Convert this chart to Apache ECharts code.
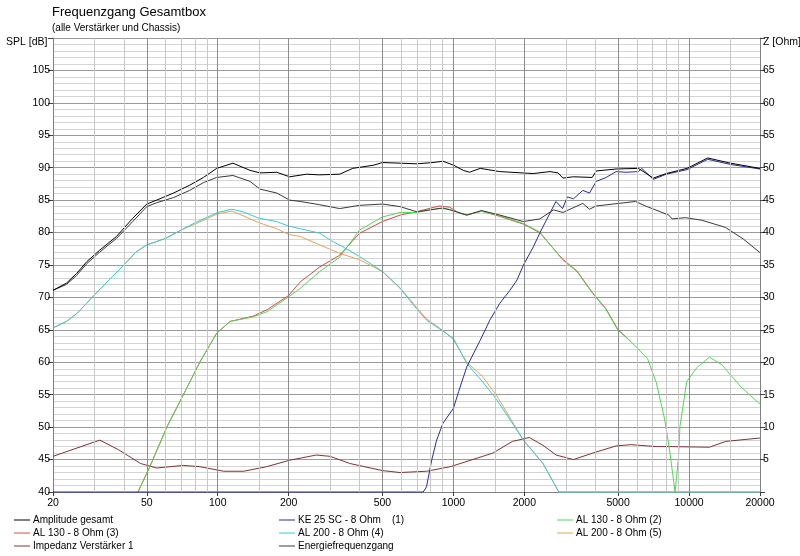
<!DOCTYPE html>
<html>
<head>
<meta charset="utf-8">
<script src="https://cdn.jsdelivr.net/npm/echarts@6/dist/echarts.min.js"></script>
<style>
html,body{margin:0;padding:0;background:#fff;}
#c{width:800px;height:556px;}
</style>
</head>
<body>
<div id="c"></div>
<script>
// ---- data ----
const xLabelFreqs = [20, 50, 100, 200, 500, 1000, 2000, 5000, 10000, 20000];
const gridMajorFreqs = [50, 100, 200, 500, 1000, 2000, 5000, 10000];
const gridMinorFreqs = [30, 40, 60, 70, 80, 90, 150, 300, 400, 600, 700, 800, 900, 1500, 3000, 4000, 6000, 7000, 8000, 9000, 15000];

const ampF  = [20, 22.8, 25.2, 27.8, 31.6, 37.2, 43.6, 50, 55, 65, 76, 87, 99, 116, 137, 151, 178, 202, 238, 270, 329, 374, 460, 500, 594, 700, 820, 903, 1000, 1100, 1170, 1300, 1574, 2180, 2570, 2780, 2916, 3230, 3880, 4040, 4900, 6100, 7050, 8000, 9800, 12000, 15000, 20000];
const ampDb = [71.1, 72.2, 73.7, 75.5, 77.3, 79.4, 82.2, 84.4, 85.0, 86.1, 87.3, 88.5, 89.9, 90.7, 89.6, 89.2, 89.3, 88.6, 89.0, 88.9, 89.0, 89.9, 90.4, 90.8, 90.7, 90.6, 90.8, 91.0, 90.4, 89.6, 89.3, 89.9, 89.4, 89.1, 89.4, 89.2, 88.4, 88.6, 88.5, 89.5, 89.8, 89.9, 88.4, 89.1, 89.9, 91.5, 90.7, 89.9];

const energyF  = [20, 22.8, 25.2, 27.8, 31.6, 37.2, 43.6, 50, 55, 65, 76, 87, 99, 116, 137, 151, 178, 202, 224, 270, 329, 400, 500, 594, 700, 903, 1030, 1140, 1316, 1574, 1982, 2324, 2660, 2916, 3540, 3780, 4030, 5050, 5930, 6530, 8200, 8470, 9640, 11330, 14260, 17000, 20000];
const energyDb = [71.1, 72.0, 73.4, 75.2, 77.0, 79.1, 81.7, 84.0, 84.6, 85.4, 86.5, 87.7, 88.5, 88.8, 87.9, 86.7, 86.1, 85.0, 84.8, 84.3, 83.7, 84.2, 84.4, 84.0, 83.2, 83.8, 83.2, 82.7, 83.4, 82.7, 81.7, 82.1, 83.5, 83.1, 84.5, 83.6, 84.1, 84.5, 84.8, 84.1, 82.7, 82.1, 82.3, 81.9, 80.8, 79.0, 76.9];

const ke25F  = [20, 745, 769, 809, 849, 903, 1000, 1053, 1140, 1300, 1428, 1574, 1738, 1862, 1982, 2184, 2324, 2723, 2906, 3045, 3230, 3540, 3780, 4040, 4450, 4900, 5400, 6100, 6300, 7050, 8000, 9800, 12000, 15000, 20000];
const ke25Db = [40, 40, 40.8, 44.9, 48.0, 50.6, 52.9, 55.5, 59.3, 63.4, 66.5, 69.1, 71.1, 72.7, 75.0, 77.8, 79.9, 84.8, 83.7, 85.5, 85.2, 86.5, 86.1, 87.9, 88.5, 89.4, 89.3, 89.4, 89.9, 88.2, 89.0, 89.7, 91.3, 90.5, 89.8];

const al130aF  = [45.9, 51.5, 61, 71.5, 84.2, 99, 113, 141, 162, 200, 224, 271, 329, 400, 500, 594, 696, 870, 965, 1060, 1140, 1316, 1574, 1982, 2324, 2906, 3340, 3900, 4450, 4980, 5660, 6660, 7270, 7890, 8300, 8720, 9000, 9150, 9770, 10750, 12200, 13800, 16600, 19650, 20000];
const al130aDb = [40, 43.9, 50.1, 55.0, 60.1, 64.5, 66.3, 67.0, 67.8, 70.1, 71.4, 74.0, 76.2, 80.4, 82.4, 83.1, 83.1, 83.7, 83.6, 83.0, 82.7, 83.3, 82.6, 81.4, 80.1, 75.8, 74.0, 70.6, 68.1, 65.0, 63.2, 60.6, 56.8, 51.1, 46.0, 40.0, 44.9, 50.1, 57.0, 59.1, 60.8, 59.6, 56.2, 53.8, 53.6];

const al130bF  = [45.9, 51.5, 61, 71.5, 84.2, 99, 113, 141, 162, 200, 224, 271, 329, 400, 500, 594, 696, 870, 965, 1060, 1140, 1316, 1574, 1982, 2324, 2906, 3340, 3900, 4450, 4980, 5660];
const al130bDb = [40, 43.9, 50.1, 55.0, 60.1, 64.5, 66.3, 67.1, 68.1, 70.3, 72.4, 74.7, 76.5, 79.9, 81.7, 82.7, 83.2, 84.1, 83.9, 83.0, 82.7, 83.3, 82.5, 81.3, 80.0, 75.9, 74.1, 70.7, 68.2, 65.1, 63.2];

const al200aF  = [20, 22.8, 25.2, 27.8, 30, 34.6, 40, 45, 50, 60, 70, 80, 100, 115, 128, 150, 178, 200, 224, 271, 308, 329, 400, 500, 594, 696, 769, 903, 1000, 1140, 1330, 1530, 1982, 2400, 2800, 20000];
const al200aDb = [65.3, 66.3, 67.5, 69.1, 70.4, 72.7, 75.0, 77.0, 78.1, 79.1, 80.4, 81.5, 83.1, 83.6, 83.2, 82.2, 81.7, 81.0, 80.6, 79.9, 78.6, 78.1, 76.3, 74.0, 71.4, 68.3, 66.5, 64.8, 63.7, 59.8, 57.0, 54.2, 48.0, 44.4, 40.0, 40.0];

const al200bF  = [20, 22.8, 25.2, 27.8, 30, 34.6, 40, 45, 50, 60, 70, 80, 100, 115, 128, 150, 178, 200, 224, 271, 329, 400, 500, 594, 696, 769, 903, 1000, 1140, 1330, 1530, 1982, 2400, 2800, 20000];
const al200bDb = [65.3, 66.3, 67.5, 69.1, 70.4, 72.7, 75.0, 77.0, 78.1, 79.1, 80.4, 81.3, 82.9, 83.3, 82.6, 81.5, 80.6, 79.7, 79.4, 78.1, 76.8, 75.8, 74.0, 71.5, 68.5, 66.7, 64.9, 63.5, 60.0, 57.8, 54.8, 48.0, 44.4, 40.0, 40.0];

const impF   = [20, 31.6, 38, 47, 55, 71.5, 84, 106, 129, 161, 202, 262, 300, 363, 500, 594, 769, 970, 1470, 1780, 2100, 2400, 2730, 3230, 3900, 4900, 5660, 7300, 8470, 12200, 14300, 19650, 20000];
const impOhm = [5.5, 8.0, 6.5, 4.4, 3.7, 4.1, 3.9, 3.2, 3.2, 3.9, 4.9, 5.7, 5.5, 4.4, 3.3, 3.0, 3.2, 3.9, 6.0, 7.8, 8.4, 7.2, 5.7, 5.0, 6.0, 7.1, 7.3, 7.0, 7.0, 6.9, 7.8, 8.3, 8.3];

const names = {
  amp: 'Amplitude gesamt',
  ke25: 'KE 25 SC - 8 Ohm    (1)',
  al130a: 'AL 130 - 8 Ohm (2)',
  al130b: 'AL 130 - 8 Ohm (3)',
  al200a: 'AL 200 - 8 Ohm (4)',
  al200b: 'AL 200 - 8 Ohm (5)',
  imp: 'Impedanz Verstärker 1',
  energy: 'Energiefrequenzgang'
};

// ---- build ----
const FONT = '"Liberation Sans", Arial, sans-serif';
function pairs(f, v) { return f.map((x, i) => [x, v[i]]); }
function line(name, f, v, color, yIdx) {
  return {
    name: name, type: 'line', data: pairs(f, v), yAxisIndex: yIdx || 0,
    symbol: 'none', showSymbol: false, smooth: false, z: 3,
    lineStyle: { color: color, width: 1 }, itemStyle: { color: color },
    emphasis: { disabled: true }, clip: false
  };
}
const gridLineData = gridMajorFreqs.map(f => ({ xAxis: f, lineStyle: { color: '#8c8c8c', width: 1, type: 'solid' } }))
  .concat(gridMinorFreqs.map(f => ({ xAxis: f, lineStyle: { color: '#c8c8c8', width: 1, type: 'solid' } })));

const chart = echarts.init(document.getElementById('c'), null, { renderer: 'canvas' });
const legendBase = {
  orient: 'vertical', top: 515, itemWidth: 16, itemHeight: 11, itemGap: 3,
  selectedMode: false, padding: 0, symbolKeepAspect: true,
  icon: 'path://M0,0H16V1H0Z',
  textStyle: { fontSize: 10, color: '#000', fontFamily: FONT, padding: [0, 0, 0, -2] }
};
chart.setOption({
  animation: false,
  backgroundColor: '#ffffff',
  title: [
    { text: 'Frequenzgang Gesamtbox', subtext: '(alle Verstärker und Chassis)', left: 52, top: 6, padding: 0, itemGap: 4,
      textStyle: { fontSize: 13, fontWeight: 'normal', color: '#000', fontFamily: FONT },
      subtextStyle: { fontSize: 10, color: '#000', fontFamily: FONT } },
    { text: 'SPL [dB]', left: 6, top: 37, padding: 0, textStyle: { fontSize: 10.5, fontWeight: 'normal', color: '#000', fontFamily: FONT } },
    { text: 'Z [Ohm]', left: 763, top: 37, padding: 0, textStyle: { fontSize: 10.5, fontWeight: 'normal', color: '#000', fontFamily: FONT } }
  ],
  legend: [
    Object.assign({}, legendBase, { left: 14, data: [names.amp, names.al130b, names.imp] }),
    Object.assign({}, legendBase, { left: 279, data: [names.ke25, names.al200a, names.energy] }),
    Object.assign({}, legendBase, { left: 557, data: [names.al130a, names.al200b] })
  ],
  grid: { left: 53, right: 40, top: 38, bottom: 64, containLabel: false },
  xAxis: {
    type: 'log', logBase: 10, min: 20, max: 20000,
    axisLine: { show: true, lineStyle: { color: '#808080' } },
    axisTick: { show: true, customValues: xLabelFreqs, length: 4, lineStyle: { color: '#404040' } },
    axisLabel: { customValues: xLabelFreqs, formatter: v => String(Math.round(v)), fontSize: 10.5, color: '#000', fontFamily: FONT, margin: 6, showMinLabel: true, showMaxLabel: true },
    splitLine: { show: false }, minorSplitLine: { show: false }
  },
  yAxis: [
    { type: 'value', min: 40, max: 110, interval: 5, position: 'left',
      axisLine: { show: true, lineStyle: { color: '#808080' } },
      axisTick: { show: true, length: 5, lineStyle: { color: '#404040' } },
      axisLabel: { formatter: v => (v === 110 ? '' : String(v)), fontSize: 10.5, color: '#000', fontFamily: FONT, margin: 3 },
      splitLine: { show: true, lineStyle: { color: '#9a9a9a', width: 1 } },
      minorTick: { show: false, splitNumber: 5 },
      minorSplitLine: { show: true, lineStyle: { color: '#d4d4d4', width: 1 } } },
    { type: 'value', min: 0, max: 70, interval: 5, position: 'right',
      axisLine: { show: true, lineStyle: { color: '#808080' } },
      axisTick: { show: true, length: 5, lineStyle: { color: '#404040' } },
      axisLabel: { formatter: v => (v === 0 || v === 70 ? '' : String(v)), fontSize: 10.5, color: '#000', fontFamily: FONT, margin: 3 },
      splitLine: { show: false } }
  ],
  series: [
    { name: 'grid', type: 'line', data: [], z: 1, silent: true, symbol: 'none',
      markLine: { silent: true, symbol: ['none', 'none'], label: { show: false }, animation: false, data: gridLineData } },
    line(names.imp, impF, impOhm, '#7e3434', 1),
    line(names.al200b, al200bF, al200bDb, '#e0a45a'),
    line(names.al200a, al200aF, al200aDb, '#3ec8d2'),
    line(names.al130b, al130bF, al130bDb, '#d84a4a'),
    line(names.al130a, al130aF, al130aDb, '#55d655'),
    line(names.ke25, ke25F, ke25Db, '#2c2c9c'),
    line(names.energy, energyF, energyDb, '#3a3a3a'),
    line(names.amp, ampF, ampDb, '#000000')
  ]
});
</script>
</body>
</html>
